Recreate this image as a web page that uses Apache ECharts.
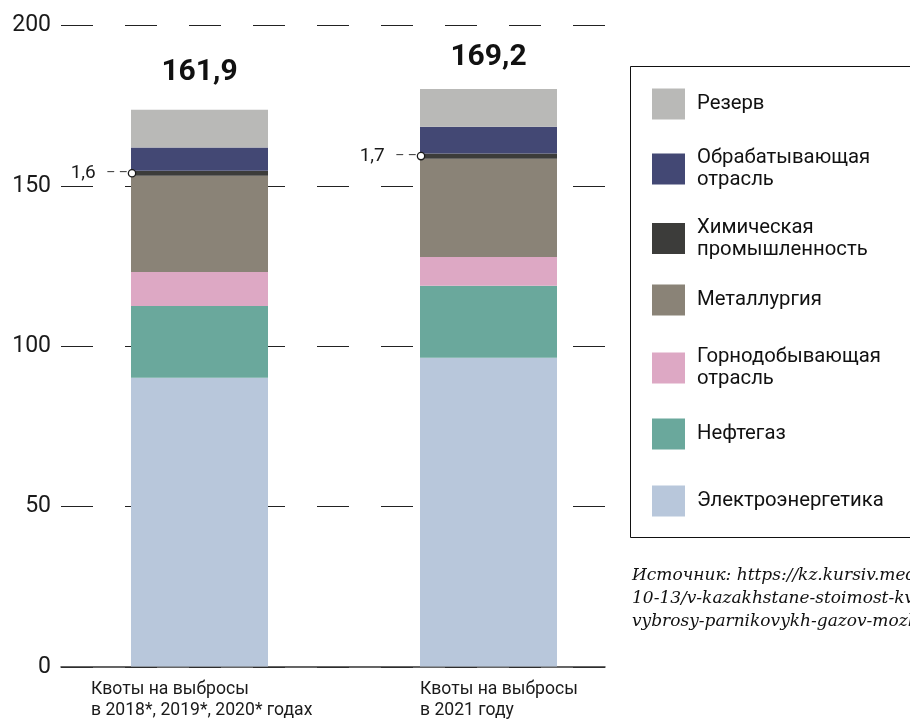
<!DOCTYPE html>
<html><head><meta charset="utf-8">
<script src="https://cdn.jsdelivr.net/npm/echarts@6/dist/echarts.min.js"></script>
<style>html,body{margin:0;padding:0;background:#fff}#c{width:910px;height:720px}</style>
</head><body><div id="c"></div>
<script>
// ---- data ----
const categories = ['Квоты на выбросы\nв 2018*, 2019*, 2020* годах', 'Квоты на выбросы\nв 2021 году'];
const electricity   = [90.1, 96.3];
const oilGas        = [22.4, 22.5];
const mining        = [10.6, 9.0];
const metallurgy    = [30.0, 30.6];
const chemical      = [1.6, 1.7];
const manufacturing = [7.2, 8.3];
const reserve       = [11.8, 11.8];
const totals        = [161.9, 169.2];
const yTicks        = [0, 50, 100, 150, 200];
const names = {
  electricity: 'Электроэнергетика',
  oilGas: 'Нефтегаз',
  mining: 'Горнодобывающая\nотрасль',
  metallurgy: 'Металлургия',
  chemical: 'Химическая\nпромышленность',
  manufacturing: 'Обрабатывающая\nотрасль',
  reserve: 'Резерв'
};
const sourceLines = [
  'Источник: https://kz.kursiv.media/2021-',
  '10-13/v-kazakhstane-stoimost-kvot-na-',
  'vybrosy-parnikovykh-gazov-mozhet-vyrasti/'
];

// ---- styles / layout ----
const colors = {
  electricity: '#b8c7db', oilGas: '#6aa89c', mining: '#dda8c4', metallurgy: '#8a8377',
  chemical: '#3c3c3a', manufacturing: '#434874', reserve: '#b9b9b7'
};
const FONT = 'Roboto, "Noto Sans", sans-serif';
const fmt = v => v.toFixed(1).replace('.', ',');
const totalLabelGap = [22, 16];
const legendOrder = ['reserve','manufacturing','chemical','metallurgy','mining','oilGas','electricity'];
const legendCenters = [104, 169, 238.5, 300, 368, 434, 501];

const chart = echarts.init(document.getElementById('c'), null, {renderer: 'canvas'});

function barSeries(key, data, extra) {
  return Object.assign({
    name: names[key], type: 'bar', stack: 'total', xAxisIndex: 1, yAxisIndex: 1,
    barWidth: 137, data: data, itemStyle: {color: colors[key]},
    emphasis: {disabled: true}, animation: false
  }, extra || {});
}

const series = [
  barSeries('electricity', electricity),
  barSeries('oilGas', oilGas),
  barSeries('mining', mining),
  barSeries('metallurgy', metallurgy),
  barSeries('chemical', chemical, {
    label: {
      show: true, position: 'left', distance: -4,
      formatter: p => '{v|' + fmt(chemical[p.dataIndex]) + '}{d|   – –}{c| }',
      rich: {
        v: {fontFamily: FONT, fontSize: 19, color: '#1a1a1a'},
        d: {fontFamily: FONT, fontSize: 14, color: '#444', padding: [0, 1, 0, 0]},
        c: {width: 6, height: 6, borderRadius: 4, borderColor: '#1a1a1a', borderWidth: 1.3, backgroundColor: '#fff'}
      }
    }
  }),
  barSeries('manufacturing', manufacturing),
  barSeries('reserve', reserve.map((v, i) => ({value: v, label: {distance: totalLabelGap[i]}})), {
    label: {
      show: true, position: 'top',
      formatter: p => fmt(totals[p.dataIndex]),
      fontFamily: FONT, fontSize: 30, fontWeight: 'bold', color: '#111'
    }
  })
];

const legends = legendOrder.map((key, i) => {
  const twoLine = names[key].indexOf('\n') >= 0;
  return {
    data: [names[key]], orient: 'vertical', left: 652,
    top: legendCenters[i] - (twoLine ? 22 : 15.5),
    padding: 0, itemWidth: 33, itemHeight: 31, icon: 'rect', selectedMode: false,
    itemStyle: {borderWidth: 0},
    textStyle: {fontFamily: FONT, fontSize: 20.3, lineHeight: 22, color: '#111', padding: [0, 0, 0, 7]}
  };
});

const option = {
  backgroundColor: '#fff',
  animation: false,
  grid: [
    {left: 61, right: 305, top: 25.5, bottom: 53, containLabel: false},
    {left: 55, right: 277, top: 25.5, bottom: 53, containLabel: false}
  ],
  xAxis: [
    {gridIndex: 0, type: 'category', data: categories,
     axisLine: {show: true, lineStyle: {color: '#333', width: 1.5}},
     axisTick: {show: false}, axisLabel: {show: false}, splitLine: {show: false}},
    {gridIndex: 1, type: 'category', data: categories,
     axisLine: {show: false}, axisTick: {show: false}, splitLine: {show: false},
     axisLabel: {
       show: true, margin: 13, align: 'center',
       formatter: (v, i) => '{c' + i + '|' + v + '}',
       rich: {
         c0: {width: 217, align: 'left', fontFamily: FONT, fontSize: 17.6, lineHeight: 21, color: '#1a1a1a'},
         c1: {width: 137, align: 'left', fontFamily: FONT, fontSize: 17.6, lineHeight: 21, color: '#1a1a1a'}
       }
     }}
  ],
  yAxis: [
    {gridIndex: 0, type: 'value', min: yTicks[0], max: yTicks[yTicks.length - 1], interval: yTicks[1] - yTicks[0],
     axisLine: {show: false}, axisTick: {show: false},
     axisLabel: {fontFamily: FONT, fontSize: 23, color: '#1a1a1a', margin: 10},
     splitLine: {show: true, lineStyle: {color: '#222', width: 1, type: [32, 32]}}},
    {gridIndex: 1, type: 'value', min: yTicks[0], max: yTicks[yTicks.length - 1], interval: yTicks[1] - yTicks[0],
     show: false, splitLine: {show: false}}
  ],
  legend: legends,
  series: series,
  graphic: [
    {type: 'rect', shape: {x: 630.5, y: 66.5, width: 300, height: 471},
     style: {fill: 'none', stroke: '#111', lineWidth: 1}, silent: true},
    {type: 'text', left: 632, top: 564,
     style: {text: sourceLines.join('\n'), font: 'italic 17px "DejaVu Serif", serif', lineHeight: 23, fill: '#111'},
     silent: true}
  ]
};
chart.setOption(option);
</script>
</body></html>
